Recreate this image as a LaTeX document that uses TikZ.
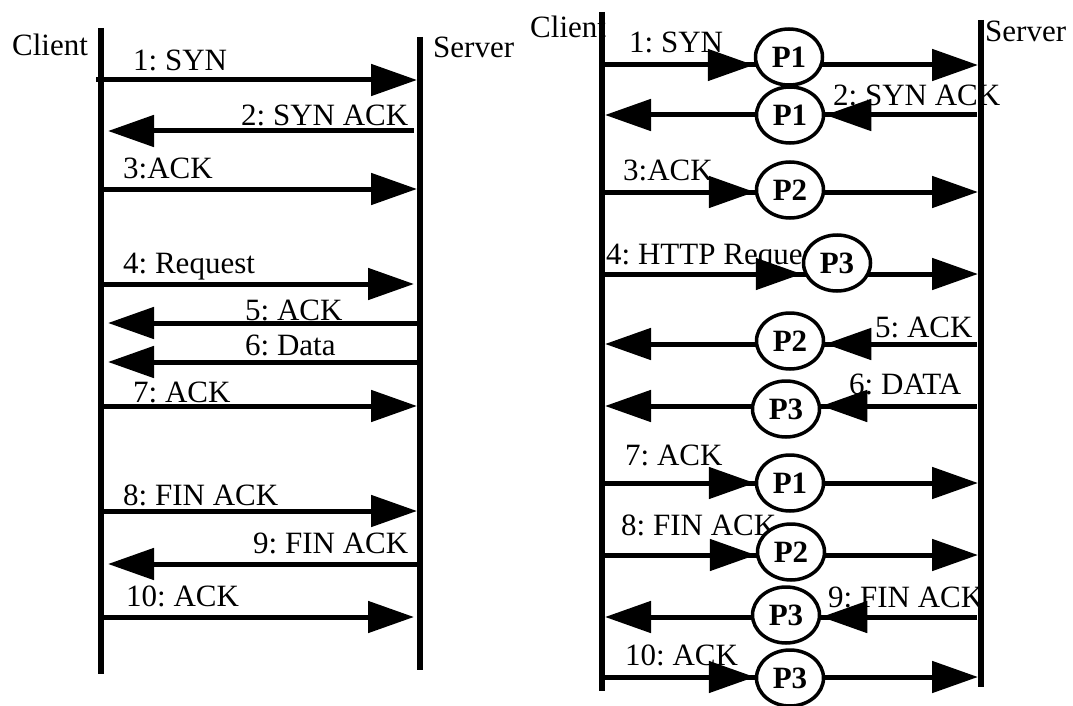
\documentclass[tikz,border=0pt]{standalone}
\usepackage{fontspec}
\setmainfont{Liberation Serif}
\usetikzlibrary{arrows.meta,shapes.geometric}
\pgfdeclarelayer{fore}
\pgfsetlayers{main,fore}

\begin{document}
\begin{tikzpicture}[
    x=1pt,y=-1pt,
    life/.style={line width=5.5pt},
    msg/.style={line width=5pt,-{Triangle[length=46pt,width=31pt]}},
    tlabel/.style={inner sep=0pt,anchor=base west,font=\fontsize{31}{36}\selectfont\frenchspacing},
    proc/.style={ellipse,draw,line width=3.5pt,fill=white,minimum width=67pt,
      minimum height=56pt,inner sep=0pt,font=\fontsize{31}{36}\selectfont\bfseries},
  ]
  \useasboundingbox (0,0) rectangle (1073,706);

  % plain connection
  \node[tlabel] (lclient) at (12,56) {Client};
  \node[tlabel] (lserver) at (433,58) {Server};
  \node[tlabel] (lm1) at (133,71) {1: SYN};
  \node[tlabel] (lm2) at (241,125) {2: SYN ACK};
  \node[tlabel] (lm3) at (123,178) {3:ACK};
  \node[tlabel] (lm4) at (123,273) {4: Request};
  \node[tlabel] (lm5) at (245,320) {5: ACK};
  \node[tlabel] (lm6) at (245,355) {6: Data};
  \node[tlabel] (lm7) at (133,402) {7: ACK};
  \node[tlabel] (lm8) at (123,505) {8: FIN ACK};
  \node[tlabel] (lm9) at (253,553) {9: FIN ACK};
  \node[tlabel] (lm10) at (126,606) {10: ACK};

  \coordinate (lctop) at (101,28);
  \coordinate (lcbot) at (101,674);
  \coordinate (lstop) at (420,37);
  \coordinate (lsbot) at (420,670);
  \draw[life] (lctop) -- (lcbot);
  \draw[life] (lstop) -- (lsbot);

  \foreach \i/\y/\a/\b in {1/80/96/417,3/189/101/417,4/284/101/414,
                           7/406/101/417,8/511/101/417,10/617/101/414}{
    \coordinate (lc\i) at (\a,\y);
    \coordinate (ls\i) at (\b,\y);
    \draw[msg] (lc\i) -- (ls\i);
  }
  \foreach \i/\y/\b in {2/131/414,5/323/418,6/362/418,9/564/420}{
    \coordinate (lc\i) at (108,\y);
    \coordinate (ls\i) at (\b,\y);
    \draw[msg] (ls\i) -- (lc\i);
  }

  % through the proxies
  \node[tlabel] (rclient) at (530,38) {Client};
  \node[tlabel] (rserver) at (985,42) {Server};
  \node[tlabel] (rm1) at (629,53) {1: SYN};
  \node[tlabel] (rm2) at (833,106) {2: SYN ACK};
  \node[tlabel] (rm3) at (623,180) {3:ACK};
  \node[tlabel] (rm4) at (606,264) {4: HTTP Request};
  \node[tlabel] (rm5) at (875,337) {5: ACK};
  \node[tlabel] (rm6) at (849,394) {6: DATA};
  \node[tlabel] (rm7) at (625,465) {7: ACK};
  \node[tlabel] (rm8) at (621,535) {8: FIN ACK};
  \node[tlabel] (rm9) at (828,607) {9: FIN ACK};
  \node[tlabel] (rm10) at (625,665) {10: ACK};

  \begin{pgfonlayer}{fore}
    \foreach \i/\x/\y/\p in {1/789/57/P1,2/790/115/P1,3/790/190/P2,4/837/263/P3,
                             5/790/341/P2,6/786/409/P3,7/790/483/P1,8/791/552/P2,
                             9/786/615/P3,10/790/678/P3}
      \node[proc] (p\i) at (\x,\y) {\p};
  \end{pgfonlayer}

  \coordinate (rctop) at (602,12);
  \coordinate (rcbot) at (602,691);
  \coordinate (rstop) at (981,20);
  \coordinate (rsbot) at (981,687);
  \draw[life] (rctop) -- (rcbot);
  \draw[life] (rstop) -- (rsbot);

  \foreach \i/\y in {1/65,3/192,4/274,7/483,8/555,10/677}{
    \coordinate (rc\i) at (602,\y);
    \coordinate (rs\i) at (978,\y);
    \draw[msg] (rc\i) -- (rs\i);
    \draw[msg] (rc\i) -- (rc\i -| p\i.west);
  }
  \foreach \i/\y in {2/115,5/344,6/406,9/617}{
    \coordinate (rc\i) at (605,\y);
    \coordinate (rs\i) at (977,\y);
    \draw[msg] (rs\i) -- (rc\i);
    \draw[msg] (rs\i) -- (rs\i -| p\i.east);
  }
\end{tikzpicture}
\end{document}
